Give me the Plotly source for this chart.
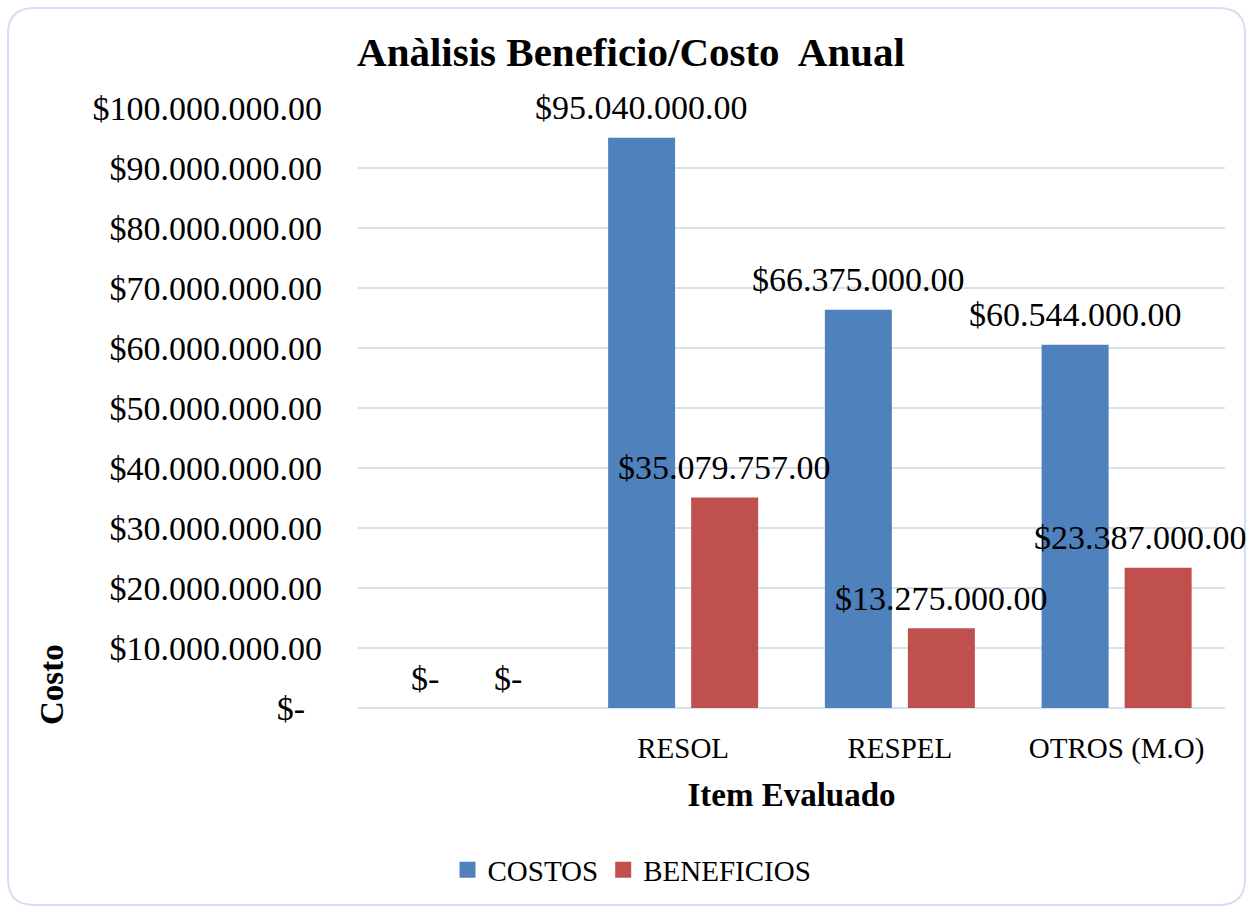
import plotly.graph_objects as go

categories = [" ", "RESOL", "RESPEL", "OTROS (M.O)"]
costos = [0, 95040000, 66375000, 60544000]
beneficios = [0, 35079757, 13275000, 23387000]
tick_values = [0, 10000000, 20000000, 30000000, 40000000, 50000000,
               60000000, 70000000, 80000000, 90000000, 100000000]
series_names = ["COSTOS", "BENEFICIOS"]
series_colors = ["#4F81BD", "#C0504D"]

FONT = "Liberation Serif"
W, H = 1253, 911
L, R, T, B = 358, 28, 108, 203
BARGAP, GROUPGAP = 0.234, 0.193
LABEL_W = 212       # approx. width of a value label, px
RIGHT_LIMIT = 1246  # keep labels inside the chart frame


def fmt(v):
    if v == 0:
        return "$-"
    return "$" + f"{v:,.2f}".replace(",", ".")


def tick_fmt(v):
    if v == 0:
        return "$-\u00a0\u00a0"
    return fmt(v)


fig = go.Figure()
series = [costos, beneficios]
for name, vals, col in zip(series_names, series, series_colors):
    fig.add_trace(go.Bar(
        name=name, x=categories, y=vals,
        marker=dict(color=col, line=dict(width=0)),
        showlegend=False,
    ))
# legend entries with larger square symbols
for name, col in zip(series_names, series_colors):
    fig.add_trace(go.Scatter(
        name=name, x=[None], y=[None], mode="markers",
        marker=dict(symbol="square", size=18, color=col),
        showlegend=True,
    ))

pw, ph = W - L - R, H - T - B
cat_w = pw / len(categories)
slot = cat_w * (1 - BARGAP) / 2
for i, vals in enumerate(series):
    xs = (i - 0.5) * slot
    for j, (c, v) in enumerate(zip(categories, vals)):
        center_px = L + (j + 0.5) * cat_w + xs
        shift = xs
        overflow = center_px + LABEL_W / 2 - RIGHT_LIMIT
        if v != 0 and overflow > 0:
            shift -= overflow
        fig.add_annotation(x=c, y=v, xref="x", yref="y", text=fmt(v),
                           showarrow=False, xshift=shift, yshift=30,
                           yanchor="middle", xanchor="center",
                           font=dict(family=FONT, size=34, color="#000000"))


def px2paper(x, y):
    return (x - L) / pw, (H - B - y) / ph


def rounded_rect(x0, y0, x1, y1, r):
    def P(x, y):
        a, b = px2paper(x, y)
        return f"{a:.5f},{b:.5f}"
    d = f"M {P(x0 + r, y0)} L {P(x1 - r, y0)} Q {P(x1, y0)} {P(x1, y0 + r)} "
    d += f"L {P(x1, y1 - r)} Q {P(x1, y1)} {P(x1 - r, y1)} "
    d += f"L {P(x0 + r, y1)} Q {P(x0, y1)} {P(x0, y1 - r)} "
    d += f"L {P(x0, y0 + r)} Q {P(x0, y0)} {P(x0 + r, y0)} Z"
    return d


fig.add_shape(type="path", xref="paper", yref="paper",
              path=rounded_rect(8, 8, 1245, 905, 26),
              line=dict(color="#D3E0F1", width=2), layer="below")

# vertical y-axis title placed low, as in the reference
fig.add_annotation(text="<b>Costo</b>", xref="paper", yref="paper",
                   x=(52 - L) / pw, y=(H - B - 685) / ph, textangle=-90,
                   showarrow=False, xanchor="center", yanchor="middle",
                   font=dict(family=FONT, size=33, color="#000000"))

fig.update_layout(
    width=W, height=H,
    margin=dict(l=L, r=R, t=T, b=B, autoexpand=False),
    paper_bgcolor="white", plot_bgcolor="white",
    barmode="group", bargap=BARGAP, bargroupgap=GROUPGAP,
    font=dict(family=FONT, color="#000000"),
    title=dict(text="<b>Anàlisis Beneficio/Costo  Anual</b>",
               font=dict(family=FONT, size=41, color="#000000"),
               xref="container", x=631 / W, xanchor="center",
               yref="container", y=1 - 52 / H, yanchor="middle"),
    legend=dict(orientation="h", xref="container", x=632 / W, xanchor="center",
                yref="container", y=1 - 870 / H, yanchor="middle",
                font=dict(family=FONT, size=29, color="#000000"),
                itemwidth=30, traceorder="normal", tracegroupgap=0),
    xaxis=dict(
        type="category", range=[-0.5, len(categories) - 0.5],
        showgrid=False, showline=False, zeroline=False,
        tickfont=dict(family=FONT, size=29, color="#000000"),
        ticklabelstandoff=20,
        title=dict(text="<b>Item Evaluado</b>",
                   font=dict(family=FONT, size=33, color="#000000"),
                   standoff=18),
    ),
    yaxis=dict(
        range=[0, 100000000], tickvals=tick_values,
        ticktext=[tick_fmt(v) for v in tick_values],
        tickfont=dict(family=FONT, size=34, color="#000000"),
        showgrid=True, gridcolor="#D6E2F0", gridwidth=2,
        zeroline=True, zerolinecolor="#D6E2F0", zerolinewidth=2,
        showline=False, ticklabelstandoff=35,
    ),
)

fig.write_html("out.html", config={"displayModeBar": False},
               post_script="document.body.style.margin='0px';")
